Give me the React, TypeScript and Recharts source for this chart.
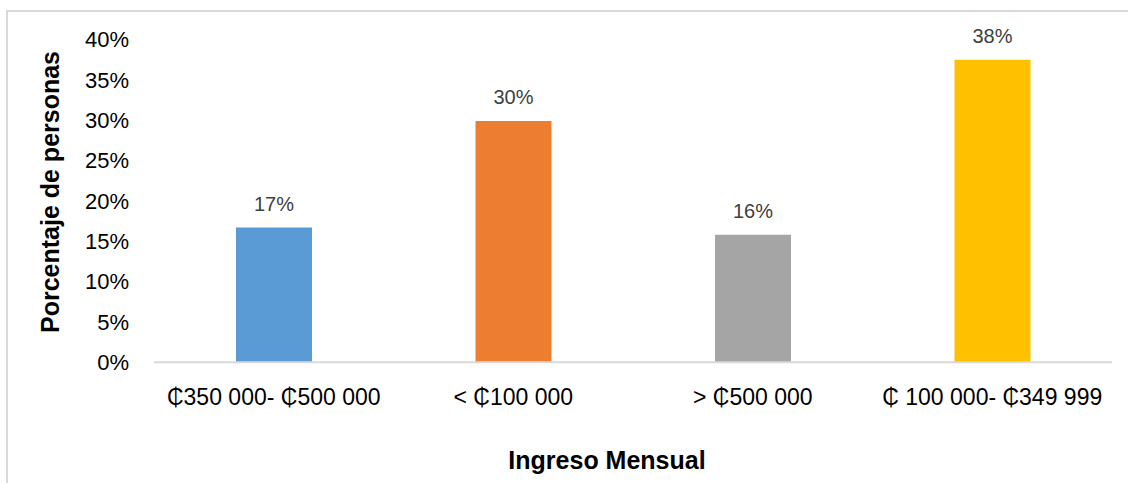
import React from 'react';
import { BarChart, Bar, XAxis, YAxis, Cell, LabelList, Label } from 'recharts';

const categories = ['₵350 000- ₵500 000', '< ₵100 000', '> ₵500 000', '₵ 100 000- ₵349 999'];
const values = [16.7, 29.9, 15.8, 37.5];
const colors = ['#5B9BD5', '#ED7D31', '#A5A5A5', '#FFC000'];
const yTicks = [0, 5, 10, 15, 20, 25, 30, 35, 40];

const data = categories.map((c, i) => ({ name: c, value: values[i] }));

const FONT = '"Liberation Sans", Arial, sans-serif';

export default function App() {
  return (
    <div style={{ position: 'absolute', left: 0, top: 0, width: 1128, height: 483, overflow: 'hidden', background: '#fff' }}>
      <div
        style={{
          position: 'absolute',
          left: 6,
          top: 10,
          width: 1300,
          height: 700,
          borderLeft: '2px solid #d9d9d9',
          borderTop: '2px solid #d9d9d9',
        }}
      />
      <div style={{ position: 'absolute', left: 0, top: 0 }}>
        <BarChart
          width={1128}
          height={483}
          data={data}
          margin={{ top: 39.5, right: 16, bottom: 0, left: 0 }}
          style={{ fontFamily: FONT }}
        >
          <YAxis
            width={154}
            domain={[0, 40]}
            ticks={yTicks}
            tickFormatter={(v: number) => `${v}%`}
            axisLine={false}
            tickLine={false}
            tickSize={0}
            tickMargin={25}
            tick={{ fill: '#000', fontSize: 22, fontFamily: FONT }}
            interval={0}
          >
            <Label
              content={() => (
                <text
                  x={50}
                  y={192}
                  transform="rotate(-90 50 192)"
                  textAnchor="middle"
                  dominantBaseline="central"
                  fontSize={25}
                  fontWeight="bold"
                  fill="#000"
                  fontFamily={FONT}
                >
                  Porcentaje de personas
                </text>
              )}
            />
          </YAxis>
          <XAxis
            dataKey="name"
            height={120.7}
            axisLine={{ stroke: '#d9d9d9', strokeWidth: 2 }}
            tickLine={false}
            tickSize={0}
            tickMargin={26}
            interval={0}
            tick={{ fill: '#000', fontSize: 23, fontFamily: FONT }}
          >
            <Label
              content={() => (
                <text
                  x={607}
                  y={460}
                  textAnchor="middle"
                  dominantBaseline="central"
                  fontSize={25}
                  fontWeight="bold"
                  fill="#000"
                  fontFamily={FONT}
                >
                  Ingreso Mensual
                </text>
              )}
            />
          </XAxis>
          <Bar dataKey="value" barSize={76} isAnimationActive={false}>
            {data.map((d, i) => (
              <Cell key={d.name} fill={colors[i]} />
            ))}
            <LabelList
              dataKey="value"
              position="top"
              offset={17}
              formatter={(v: number) => `${Math.round(v)}%`}
              fill="#404040"
              fontSize={20}
              fontFamily={FONT}
            />
          </Bar>
        </BarChart>
      </div>
    </div>
  );
}
